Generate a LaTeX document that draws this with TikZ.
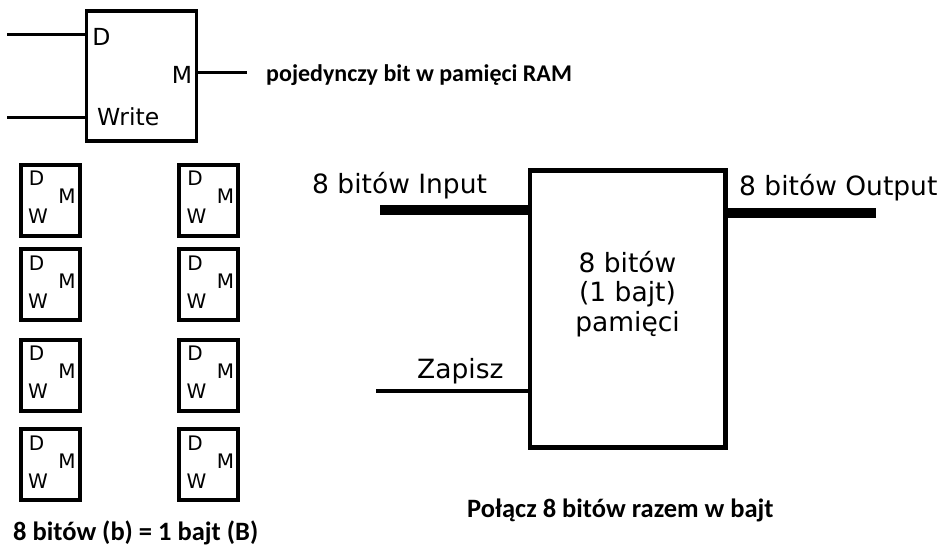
\documentclass[tikz,border=0pt]{standalone}
\usepackage{fontspec}
\setmainfont{Carlito}
\newfontfamily\handfont{DejaVu Sans}
\usetikzlibrary{positioning, calc}

\begin{document}
\begin{tikzpicture}[x=1pt, y=-1pt,
          membox/.style={rectangle, draw, line width=3.3pt, minimum width=110pt, minimum height=130pt, inner sep=0pt},
          bitbox/.style={rectangle, draw, line width=4pt, minimum width=59pt, minimum height=71pt, inner sep=0pt},
          bytebox/.style={rectangle, draw, line width=4.5pt, minimum width=195.5pt, minimum height=277pt, inner sep=0pt},
          wire/.style={line width=3.2pt},
          bus/.style={line width=10pt},
          toppin/.style={font=\handfont\fontsize{23.5}{25}\selectfont, inner sep=0pt},
          pin/.style={font=\handfont\fontsize{20}{22}\selectfont, inner sep=0pt},
          hand/.style={font=\handfont\fontsize{26.5}{29.5}\selectfont, inner sep=0pt},
          caption/.style={font=\bfseries\fontsize{25.5}{28}\selectfont, inner sep=0pt}
        ]
        \useasboundingbox (0,0) rectangle (938,547);
        \node[membox] (bit) at (141.5,76) {};
        \node[toppin] (bit-d) at (101.5,36.5) {D};
        \node[toppin] (bit-m) at (182,75) {M};
        \node[toppin, anchor=base west] (bit-w) at (97,125) {Write};
        \coordinate (din) at (7,34.7);
        \coordinate (win) at (7,117.7);
        \coordinate (mout) at (247,72.5);
        \draw[wire] (din) -- (din -| bit.west);
        \draw[wire] (win) -- (win -| bit.west);
        \draw[wire] (bit.east |- mout) -- (mout);
        \node[caption, font=\bfseries\fontsize{24}{26}\selectfont, anchor=base west] (ram) at (266,81.5) {pojedynczy bit w pamięci RAM};
        \foreach \i/\x/\y in {1/50/200, 2/50/284.5, 3/50/375, 4/50/464.5,
                              5/208.5/200, 6/208.5/284.5, 7/208.5/375, 8/208.5/464.5} {
          \node[bitbox] (b\i) at (\x,\y) {};
          \node[pin] (b\i-d) at ($(b\i.center)+(-13.5,-21.5)$) {D};
          \node[pin] (b\i-m) at ($(b\i.center)+(17,-3.5)$) {M};
          \node[pin] (b\i-w) at ($(b\i.center)+(-12,16.5)$) {W};
        }
        \node[caption, font=\bfseries\fontsize{26.5}{28}\selectfont, anchor=base west] (bajt) at (13,540) {8 bitów (b) = 1 bajt (B)};
        \node[bytebox] (byte) at (627.75,309) {};
        \node[hand, align=center] (bytetxt) at (627.5,294) {8 bitów\\(1 bajt)\\pamięci};
        \coordinate (in) at (380,210);
        \coordinate (out) at (876,213);
        \coordinate (wr) at (376,391);
        \draw[bus] (in) -- (in -| byte.west);
        \draw[bus] (byte.east |- out) -- (out);
        \draw[wire] (wr) -- (wr -| byte.west);
        \node[hand, anchor=base west] (inlbl) at (312,193) {8 bitów Input};
        \node[hand, anchor=base west] (outlbl) at (739,195) {8 bitów Output};
        \node[hand, anchor=base west] (wrlbl) at (417,378) {Zapisz};
        \node[caption, font=\bfseries\fontsize{26.5}{28}\selectfont, anchor=base west] (polacz) at (467,517) {Połącz 8 bitów razem w bajt};
      \end{tikzpicture}
\end{document}
